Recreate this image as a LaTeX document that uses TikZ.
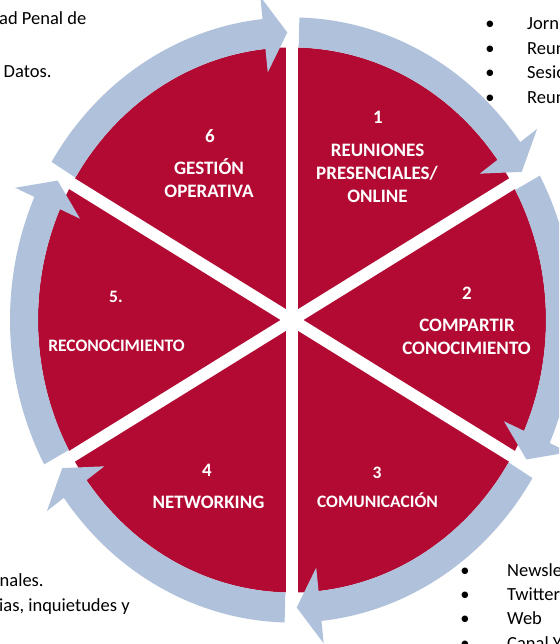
\documentclass[tikz,border=0pt]{standalone}
\usepackage{fontspec}
\setmainfont{Carlito}
\definecolor{crim}{RGB}{178,10,50}
\definecolor{ringblue}{RGB}{176,193,219}
\begin{document}
\begin{tikzpicture}[x=1pt,y=1pt,
  lab/.style={text=white,font=\fontsize{19}{23}\selectfont\bfseries,inner sep=0pt,anchor=base},
  blk/.style={text=black,font=\fontsize{18.5}{22}\selectfont,inner sep=0pt,anchor=base west},
  bul/.style={text=black,font=\fontsize{18.5}{22}\selectfont,inner sep=0pt,anchor=base},
  ringarrow/.style={fill=ringblue,draw=none},
  spoke/.style={draw=white,line width=12pt}]
\useasboundingbox (0,0) rectangle (559,644);
\fill[white] (0,0) rectangle (559,644);
\clip (0,0) rectangle (559,644);
\coordinate (O) at (292,324);
\begin{scope}[shift={(292,324)},yscale=1.073]
  \fill[crim] (0,0) circle (254);
  \foreach \a in {90,30,-30,-90,-150,150}
    \draw[spoke] (0,0) -- (\a:257);
  \foreach \s/\t in {88.5/31, 28.5/-29, -31.5/-89, -91.5/-149, 208.5/151, 148.5/91}
    \fill[ringarrow] (\s:282) arc[start angle=\s,end angle=\t+5,radius=282]
      -- (\t+5:303) -- (\t:268) -- (\t+5:232) -- (\t+5:254)
      arc[start angle=\t+5,end angle=\s,radius=254] -- cycle;
\end{scope}
% sector labels
\node[lab] (n1) at (378,644-124) {1};
\node[lab] (l1a) at (377.5,644-156.7) {REUNIONES};
\node[lab] (l1b) at (377,644-180) {PRESENCIALES/};
\node[lab] (l1c) at (377.5,644-203) {ONLINE};
\node[lab] (n2) at (467,644-300) {2};
\node[lab] (l2a) at (467,644-331.7) {COMPARTIR};
\node[lab] (l2b) at (466.5,644-354.3) {CONOCIMIENTO};
\node[lab,font=\fontsize{17.5}{21}\selectfont\bfseries] (n3) at (377,644-479) {3};
\node[lab,font=\fontsize{17.5}{21}\selectfont\bfseries] (l3) at (377.5,644-507.3) {COMUNICACIÓN};
\node[lab] (n4) at (207,644-476.7) {4};
\node[lab] (l4) at (208.5,644-508.3) {NETWORKING};
\node[lab,font=\fontsize{17.5}{21}\selectfont\bfseries] (n5) at (116,644-303) {5.};
\node[lab,font=\fontsize{17.5}{21}\selectfont\bfseries] (l5) at (116.5,644-351.7) {RECONOCIMIENTO};
\node[lab] (n6) at (210,644-143) {6};
\node[lab] (l6a) at (209,644-175) {GESTIÓN};
\node[lab] (l6b) at (209,644-197.7) {OPERATIVA};
% side texts
\node[blk] (tl1) at (-1,644-25) {ad Penal de};
\node[blk] (tl2) at (3.5,644-78) {Datos.};
\node[blk] (bl1) at (-0.5,644-587) {nales.};
\node[blk] (bl2) at (-1,644-612) {ias, inquietudes y};
\foreach \y/\w [count=\i] in {30/Jorn, 54.5/Reun, 79/Sesio, 103.5/Reun}{
  \node[bul] (trb\i) at (490,644-\y) {•};
  \node[blk] (trt\i) at (527,644-\y) {\w};
}
\foreach \y/\w [count=\i] in {577/Newsle, 601/Twitter, 625/Web, 649.5/Canal Y}{
  \node[bul] (brb\i) at (465,644-\y) {•};
  \node[blk] (brt\i) at (507,644-\y) {\w};
}
\end{tikzpicture}
\end{document}
